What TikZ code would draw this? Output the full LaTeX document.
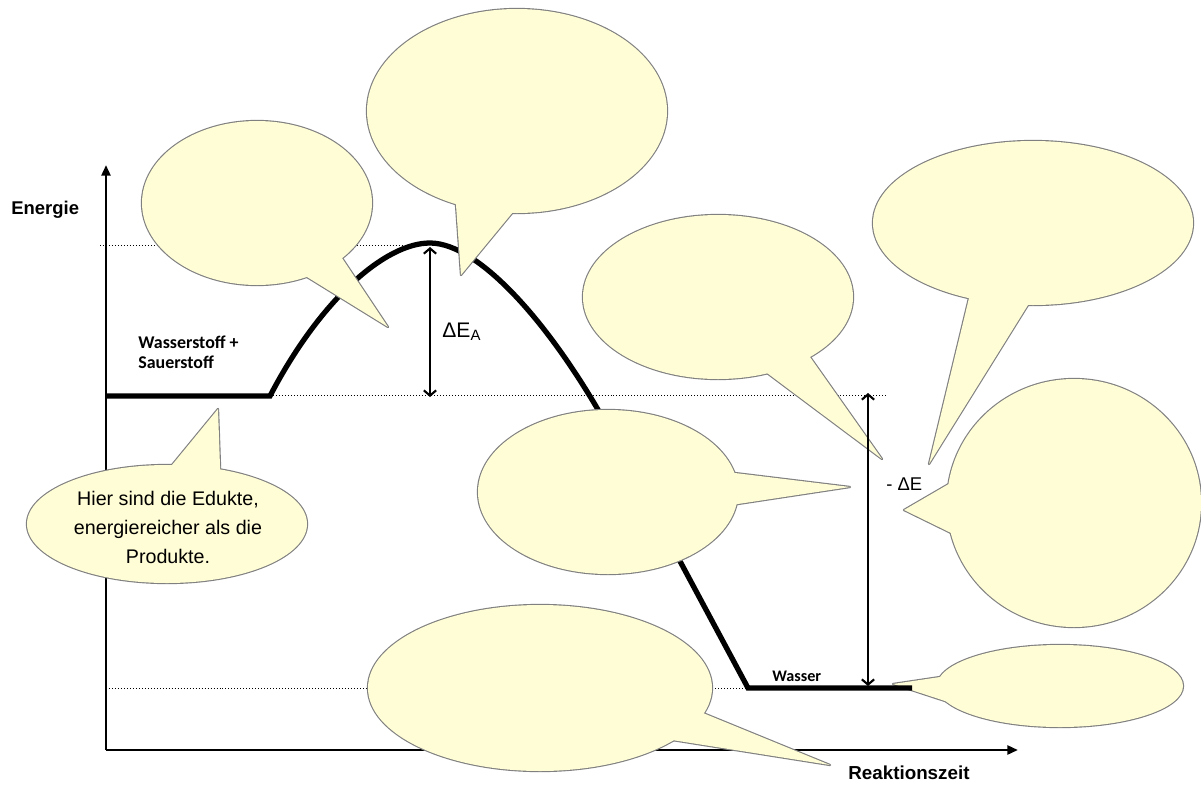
\documentclass[tikz,border=0pt]{standalone}
\usepackage{fontspec}
\setmainfont{Liberation Sans}
\newfontfamily\calfont{Carlito}
\usetikzlibrary{shapes.geometric,arrows.meta,calc}

\definecolor{bubblefill}{RGB}{255,253,214}
\definecolor{bubbleline}{RGB}{128,128,128}

\tikzset{
  balloon/.style={ellipse, draw=bubbleline, fill=bubblefill, line width=1.3pt, inner sep=0pt, outer sep=0pt},
  balloonfill/.style={ellipse, fill=bubblefill, inner sep=0pt, outer sep=0pt},
  tailedge/.style={draw=bubbleline, fill=bubblefill, line width=1.3pt, line join=round},
  axisline/.style={line width=1.5pt, -{Triangle[length=6pt,width=5pt]}},
  energyline/.style={line width=3pt},
  guide/.style={line width=0.5pt, dash pattern=on 0.5pt off 1.2pt},
  dimarrow/.style={line width=0.75pt, {Straight Barb[length=3pt,width=7pt,line width=1.2pt]}-{Straight Barb[length=3pt,width=7pt,line width=1.2pt]}},
  boldlabel/.style={font=\bfseries\fontsize{10.5}{12}\selectfont, inner sep=0pt},
  species/.style={font=\calfont\bfseries\fontsize{10.2}{11.3}\selectfont, inner sep=0pt, align=left},
}

% speech bubble: name, centre, width, height, tail tip, two tail base points
\newcommand\speechbubble[7]{%
  \node[balloon, minimum width=#3*0.02cm, minimum height=#4*0.02cm] (#1) at (#2) {};
  \coordinate (#1-tip) at (#5);
  \path[tailedge] (#1-tip) -- ($(#1-tip)!1.2!(#6)$) -- ($(#1-tip)!1.2!(#7)$) -- cycle;
  \node[balloonfill, minimum width=#3*0.02cm, minimum height=#4*0.02cm] at (#2) {};
  \fill[bubblefill] (#1-tip) -- ($(#1-tip)!1.2!(#6)$) -- ($(#1-tip)!1.2!(#7)$) -- cycle;
}

\begin{document}
\begin{tikzpicture}[x=0.02cm, y=-0.02cm]
\useasboundingbox (0,0) rectangle (1201,785);

% key points of the energy profile
\coordinate (origin) at (106,750);
\coordinate (yTip) at (106,165);
\coordinate (xTip) at (1018,750);
\coordinate (eduktStart) at (106,396);
\coordinate (eduktEnd) at (270,396);
\coordinate (peak) at (430,243);
\coordinate (turn) at (615,440);
\coordinate (produktStart) at (748,688);
\coordinate (produktEnd) at (912,688);

% bubble beside the product level (lies under the level line)
\speechbubble{bWater}{1060,686}{246}{82}{893,684}{940,677}{945,701}

% dotted guide lines
\coordinate (gTopA) at (100,245);
\coordinate (gTopB) at (428,245);
\coordinate (gMidA) at (270,395);
\coordinate (gMidB) at (888,395);
\coordinate (gLowA) at (106,688);
\coordinate (gLowB) at (750,688);
\draw[guide] (gTopA) -- (gTopB);
\draw[guide] (gMidA) -- (gMidB);
\draw[guide] (gLowA) -- (gLowB);

% axes
\draw[axisline] (origin) -- (yTip);
\draw[axisline] (origin) -- (xTip);
\node[boldlabel, anchor=west] (energie) at (11,210) {Energie};
\node[boldlabel, anchor=base west, font=\bfseries\fontsize{10.7}{12}\selectfont] (zeit) at (848,779) {Reaktionszeit};

% energy profile
\draw[energyline] (eduktStart) -- (eduktEnd)
  .. controls (320,300) and (385,243) .. (peak)
  .. controls (480,243) and (555,328) .. (turn)
  -- (produktStart) -- (produktEnd);

\node[species, anchor=base west] (edukte) at (138,368) {Wasserstoff +\\Sauerstoff};
\node[species, anchor=base west, font=\calfont\bfseries\fontsize{9.2}{10}\selectfont] (wasser) at (772,681) {Wasser};

% speech bubbles
\speechbubble{bLeft}{257,203}{230}{164}{388,327}{342,258}{307,277}
\speechbubble{bTop}{517,111}{300}{204}{461,275}{456,205}{513,212}
\speechbubble{bMidR}{718,297}{270}{164}{882,459}{767,373}{810,357}
\speechbubble{bMid}{608,492}{260}{164}{850,487}{735,473}{738,504}
\speechbubble{bTopR}{1033,223}{320}{164}{929,464}{969,298}{1028,305}
\speechbubble{bRound}{1074,503}{254}{248}{904,510}{947,485}{949,532}
\speechbubble{bLow}{540,688}{344}{166}{830,765}{703,713}{672,740}
\speechbubble{bEdukt}{167,524}{280}{118}{218,409}{172,465}{220,466}

\node[align=center, inner sep=0pt, font=\fontsize{11.2}{16.5}\selectfont] (eduktText) at (168,527)
  {Hier sind die Edukte,\\energiereicher als die\\Produkte.};

% activation energy and reaction energy
\coordinate (eaTop) at (430,247);
\coordinate (eaBot) at (430,397);
\draw[dimarrow] (eaTop) -- (eaBot);
\node[inner sep=0pt, anchor=base west, font=\fontsize{12}{14}\selectfont] (eaLabel) at (442,337)
  {ΔE\raisebox{-0.35ex}{\fontsize{8.5}{9}\selectfont A}};

\coordinate (deTop) at (868,393);
\coordinate (deBot) at (868,686);
\draw[dimarrow] (deTop) -- (deBot);
\node[inner sep=0pt, anchor=base west, font=\fontsize{10.5}{12}\selectfont] (deLabel) at (886,490) {- ΔE};

\end{tikzpicture}
\end{document}
